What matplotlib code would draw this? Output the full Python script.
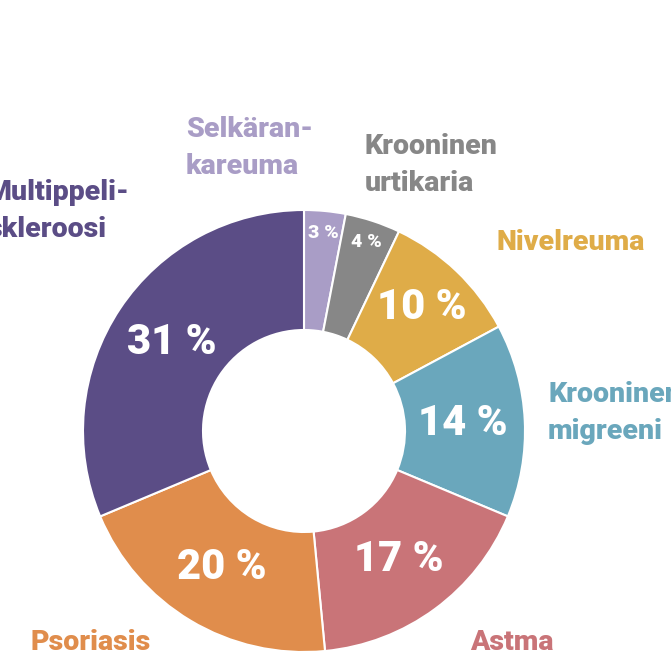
import numpy as np
import matplotlib
matplotlib.use("Agg")
import matplotlib.pyplot as plt

plt.rcParams['font.family'] = ['Roboto', 'DejaVu Sans']

# data, clockwise from 12 o'clock
labels = ['Selkäran-\nkareuma', 'Krooninen\nurtikaria', 'Nivelreuma',
          'Krooninen\nmigreeni', 'Astma', 'Psoriasis', 'Multippeli-\nskleroosi']
values = [3, 4, 10, 14, 17, 20, 31]
colors = ['#a99dc6', '#878787', '#dfac48', '#6aa7bc', '#c97478', '#e08d4c', '#5b4d86']

W, H = 671, 658
fig = plt.figure(figsize=(W / 100, H / 100), dpi=100)
ax = fig.add_axes([0, 0, 1, 1])

cx, cy = 304, H - 431
r_out, r_in = 221, 101

wedges, _ = ax.pie(values, colors=colors, startangle=90, counterclock=False,
                   center=(cx, cy), radius=r_out, frame=True,
                   wedgeprops=dict(width=r_out - r_in, edgecolor='white', linewidth=1.5))
ax.set_xlim(0, W)
ax.set_ylim(0, H)
ax.set_aspect('equal')
ax.axis('off')

# percent labels inside wedges
for w, v in zip(wedges, values):
    mid = np.deg2rad((w.theta1 + w.theta2) / 2)
    small = v < 5
    rr = r_out * (0.9 if small else 0.72)
    if v == 10:
        rr = r_out * 0.77
    ax.text(cx + rr * np.cos(mid), cy + rr * np.sin(mid), f'{v} %',
            ha='center', va='center', color='white', fontweight='black',
            fontsize=14 if small else 30)

# category labels (left edge x, centre y in pixels from top)
label_pos = [(186, 148), (365, 165), (496, 243), (548, 413),
             (470, 643), (30, 643), (-13, 211)]
for txt, col, (x, y) in zip(labels, colors, label_pos):
    ax.text(x, H - y, txt, ha='left', va='center', color=col,
            fontweight='black', fontsize=20.5, linespacing=1.5)

fig.savefig('out.png', dpi=100)
